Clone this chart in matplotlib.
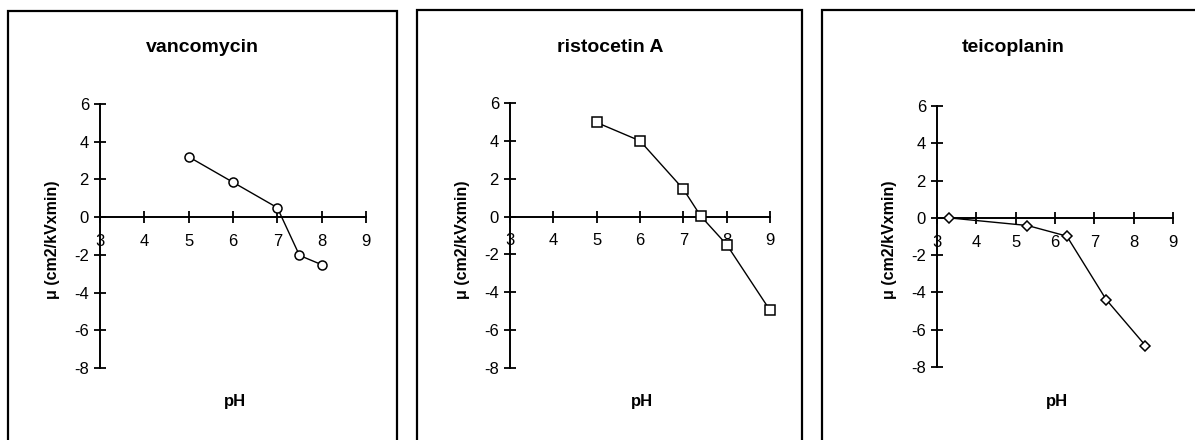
import matplotlib
matplotlib.use("Agg")
import matplotlib.pyplot as plt
from matplotlib.patches import Rectangle

plt.rcParams['font.family'] = ['Liberation Sans', 'DejaVu Sans']
plt.rcParams['axes.unicode_minus'] = False

titles = ["vancomycin", "ristocetin A", "teicoplanin"]
vanco_ph = [5, 6, 7, 7.5, 8]
vanco_mu = [3.2, 1.85, 0.5, -2.03, -2.52]
risto_ph = [5, 6, 7, 7.4, 8, 9]
risto_mu = [4.97, 4.0, 1.45, 0.03, -1.48, -4.95]
teico_ph = [3.3, 5.3, 6.3, 7.3, 8.3]
teico_mu = [0.0, -0.41, -0.98, -4.38, -6.85]
markers = ["o", "s", "D"]
marker_sizes = [6.5, 7, 5]
x_ticks = [3, 4, 5, 6, 7, 8, 9]
y_ticks = [-8, -6, -4, -2, 0, 2, 4, 6]
xlabel = "pH"
ylabel = "\u03bc (cm2/kVxmin)"

W, H = 1195, 440
fig = plt.figure(figsize=(W / 100, H / 100), dpi=100)

def fx(px):
    return px / W

def fy(py):
    return (H - py) / H

# panel geometry in pixels: (box_left, box_right, box_top, ax_left, ax_right, ax_top, ax_bottom)
panels = [
    (8, 397, 11, 100, 366, 104, 368),
    (417, 802, 10, 510, 770, 103, 368),
    (822, 1210, 10, 937, 1173, 106, 367),
]
title_x = [202, 610, 1013]
datasets = [(vanco_ph, vanco_mu), (risto_ph, risto_mu), (teico_ph, teico_mu)]

for i, (bl, br, bt, al, ar, at, ab) in enumerate(panels):
    rect = Rectangle((fx(bl), fy(H + 20)), fx(br) - fx(bl), fy(bt) - fy(H + 20),
                     transform=fig.transFigure, fill=False, edgecolor='black',
                     linewidth=1.6, zorder=0)
    fig.patches.append(rect)

    ax = fig.add_axes([fx(al), fy(ab), fx(ar) - fx(al), fy(at) - fy(ab)])
    ax.set_facecolor('none')
    xs, ys = datasets[i]
    ax.plot(xs, ys, color='black', linewidth=1.0, marker=markers[i],
            markersize=marker_sizes[i], markerfacecolor='white',
            markeredgecolor='black', markeredgewidth=1.1, zorder=5, clip_on=False)
    ax.set_xlim(3, 9)
    ax.set_ylim(-8, 6)
    ax.set_xticks(x_ticks)
    ax.set_yticks(y_ticks)
    ax.spines['top'].set_visible(False)
    ax.spines['right'].set_visible(False)
    ax.spines['bottom'].set_position(('data', 0))
    ax.spines['left'].set_linewidth(1.4)
    ax.spines['bottom'].set_linewidth(1.4)
    ax.tick_params(axis='x', direction='inout', length=8, width=1.3,
                   labelsize=12, pad=8)
    ax.tick_params(axis='y', direction='inout', length=8, width=1.3,
                   labelsize=12, pad=4)

    fig.text(fx(title_x[i]), fy(47), titles[i],
             ha='center', va='center', fontsize=14, fontweight='bold')
    fig.text(fx((al + ar) / 2 + 2), fy(401), xlabel, ha='center', va='center',
             fontsize=12, fontweight='bold')
    fig.text(fx(al - 47), fy(240), ylabel, ha='center', va='center',
             rotation=90, fontsize=11.5, fontweight='bold')

fig.savefig("out.png", dpi=100)
